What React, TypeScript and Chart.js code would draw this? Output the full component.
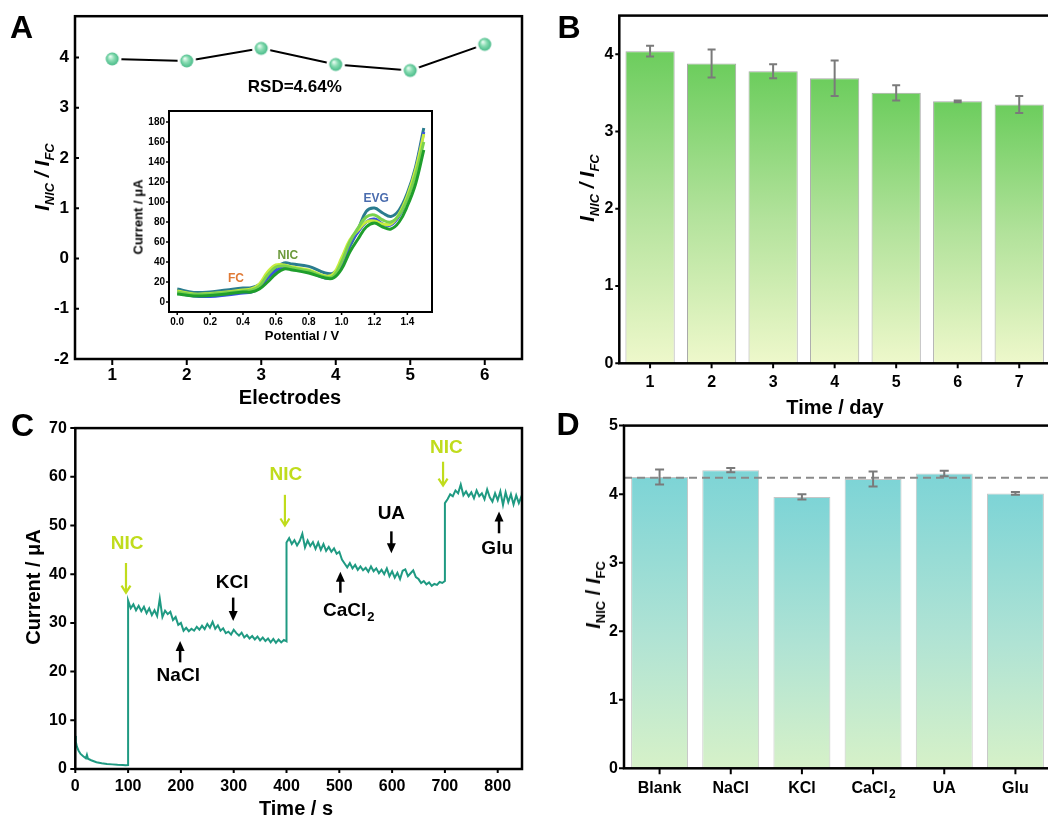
import React, { useEffect, useRef } from "react";
import { Chart, registerables } from "chart.js";

Chart.register(...registerables);

const FONT = "'Liberation Sans', Arial, Helvetica, sans-serif";

// ---------------- Panel A: reproducibility ----------------
const electrodeLabels = ["1", "2", "3", "4", "5", "6"];
const electrodeRatios = [3.97, 3.93, 4.18, 3.86, 3.74, 4.26];

// Inset: DPV curves
const cvPotential = [0, 0.1, 0.2, 0.3, 0.4, 0.45, 0.5, 0.55, 0.6, 0.65, 0.7, 0.8, 0.9, 0.95, 1.0, 1.05, 1.1, 1.15, 1.2, 1.25, 1.3, 1.35, 1.4, 1.45, 1.5];
const cvGreen = [8, 6, 6.5, 8, 10, 10, 13, 20, 28, 33, 32, 29, 24, 24, 33, 50, 63, 75, 79, 75, 73, 80, 96, 118, 152];
const cvLightGreen = [10, 7.5, 8, 9.5, 11, 12, 16, 27, 35, 36, 34, 31, 25, 26, 40, 60, 74, 85, 87, 82, 80, 87, 103, 127, 160];
const cvYellow = [11, 8, 8.5, 10, 12, 13, 18, 30, 37, 37, 35, 32, 26, 28, 44, 62, 72, 80, 81, 78, 78, 88, 106, 132, 168];
const cvBlue = [9, 6, 5.5, 7, 9, 10, 14, 24, 31, 35, 33, 30, 24, 25, 38, 58, 70, 80, 83, 78, 77, 86, 104, 132, 170];
const cvTeal = [13, 9.6, 10, 12, 14, 14.3, 17.6, 26, 34, 39, 38, 35.6, 29, 29, 39, 55.6, 72, 90.6, 94, 89, 85.6, 92, 109, 135, 174];
const cvPotentialTicks = [0, 0.2, 0.4, 0.6, 0.8, 1.0, 1.2, 1.4];

// ---------------- Panel B: stability ----------------
const dayLabels = ["1", "2", "3", "4", "5", "6", "7"];
const dayRatios = [4.04, 3.88, 3.78, 3.69, 3.5, 3.39, 3.35];
const dayErrors = [0.07, 0.18, 0.09, 0.23, 0.1, 0.01, 0.11];

// ---------------- Panel C: i-t curve ----------------
const itTime = [
  0, 1, 3, 6, 10, 15, 20, 22, 24, 30, 40, 50, 60, 70, 80, 90, 95, 100,
  100, 105, 110, 115, 120, 125, 130, 135, 140, 145, 150, 155, 160, 165, 170, 175, 180, 185, 190, 195,
  200, 205, 210, 215, 220, 225, 230, 235, 240, 245, 250, 255, 260, 265, 270, 275, 280, 285, 290, 295,
  300, 305, 310, 315, 320, 325, 330, 335, 340, 345, 350, 355, 360, 365, 370, 375, 380, 385, 390, 395, 400,
  400, 405, 410, 415, 420, 425, 430, 435, 440, 445, 450, 455, 460, 465, 470, 475, 480, 485, 490, 495,
  500, 505, 510, 515, 520, 525, 530, 535, 540, 545, 550, 555, 560, 565, 570, 575, 580, 585, 590, 595,
  600, 605, 610, 615, 620, 625, 630, 635, 640, 645, 650, 655, 660, 665, 670, 675, 680, 685, 690, 695, 700,
  700, 705, 710, 715, 720, 725, 730, 735, 740, 745, 750, 755, 760, 765, 770, 775, 780, 785, 790, 795,
  800, 805, 810, 815, 820, 825, 830, 835, 840, 845, 850,
];
const itCurrent = [
  6.8, 5.6, 4.6, 3.8, 3.1, 2.6, 2.2, 2.9, 2.1, 1.8, 1.4, 1.2, 1.05, 0.95, 0.85, 0.8, 0.78, 0.8,
  34.6, 33.0, 33.8, 32.6, 33.5, 32.4, 33.3, 32.0, 33.0, 31.6, 32.6, 31.4, 35.0, 31.2, 32.5, 31.8, 32.3, 30.6, 31.2, 29.6,
  30.0, 28.4, 29.0, 28.3, 28.8, 28.4, 29.2, 28.6, 29.4, 28.7, 29.8, 29.0, 30.2, 28.8, 29.5, 28.4, 28.9, 27.9, 28.2, 27.6,
  28.6, 27.9, 27.4, 28.0, 27.0, 27.5, 26.8, 27.3, 26.6, 27.2, 26.4, 27.0, 26.3, 26.8, 26.0, 26.7, 25.9, 26.6, 26.0, 26.5, 26.2,
  46.5, 47.4, 46.2, 47.0, 45.9, 46.8, 48.3, 45.5, 46.9, 45.8, 46.6, 45.2, 46.5, 45.0, 46.2, 44.8, 45.6, 44.6, 45.3, 44.2,
  44.6, 43.0, 42.2, 41.4, 42.3, 41.2, 41.9, 40.9, 41.6, 40.8, 41.3, 40.5, 41.6, 40.6, 41.2, 40.2, 40.9, 40.0, 41.2, 39.6,
  40.6, 39.3, 40.3, 39.0, 40.7, 41.0, 39.6, 40.2, 40.8, 39.4, 39.0, 38.2, 38.6, 37.9, 38.3, 37.6, 38.0, 37.8, 38.4, 38.2, 38.6,
  54.6, 55.4, 56.4, 56.0, 57.2, 56.6, 58.4, 56.2, 57.0, 56.0, 56.8, 55.6, 57.2, 56.0, 56.6, 55.4, 57.4, 55.8, 54.9, 56.6,
  55.2, 57.0, 54.2, 56.8, 54.8, 56.4, 54.3, 56.2, 54.6, 56.0, 55.6,
];

// ---------------- Panel D: selectivity ----------------
const interferentLabels = ["Blank", "NaCl", "KCl", "CaCl₂", "UA", "Glu"];
const interferentRatios = [4.25, 4.35, 3.96, 4.22, 4.3, 4.01];
const interferentErrors = [0.11, 0.03, 0.04, 0.11, 0.04, 0.02];
const blankReference = 4.24;

const NIC_COLOR = "#c0dc1c";

// annotation placement in data coordinates of panel C
const itNotes = [
  { text: "NIC", color: NIC_COLOR, tx: 98, ty: 46.3, ax: 96, from: 42.3, to: 36.2 },
  { text: "NaCl", color: "#000", tx: 195, ty: 19.2, ax: 198.5, from: 21.9, to: 26.3 },
  { text: "KCl", color: "#000", tx: 297, ty: 38.2, ax: 299, from: 35.2, to: 30.4 },
  { text: "NIC", color: NIC_COLOR, tx: 399, ty: 60.4, ax: 397, from: 56.3, to: 50 },
  { text: "CaCl₂", color: "#000", tx: 517, ty: 32.4, ax: 502, from: 36.2, to: 40.5 },
  { text: "UA", color: "#000", tx: 598.6, ty: 52.5, ax: 598.6, from: 48.8, to: 44.3 },
  { text: "NIC", color: NIC_COLOR, tx: 702.7, ty: 65.9, ax: 696.5, from: 63.1, to: 58.2 },
  { text: "Glu", color: "#000", tx: 799, ty: 45.3, ax: 802.5, from: 48.4, to: 52.9 },
];

// ---------------- helpers ----------------
const bold = (size: number) => ({ family: FONT, size, weight: "bold" as const });

function linearY(min: number, max: number, step: number, width: number, pad: number, size: number) {
  return {
    type: "linear",
    min,
    max,
    ticks: { stepSize: step, includeBounds: false, color: "#000", font: bold(size), padding: pad },
    grid: { display: false, drawTicks: false, tickLength: 0 },
    border: { display: false },
    afterFit: (s: any) => {
      s.width = width;
    },
  };
}

// draws text where a trailing "₂" is rendered as a real lowered subscript "2"
function drawSubText(ctx: any, text: string, cx: number, cy: number, size: number, subSize: number, subDrop: number) {
  const hasSub = text.endsWith("₂");
  const main = hasSub ? text.slice(0, -1) : text;
  ctx.textBaseline = "middle";
  ctx.font = `bold ${size}px ${FONT}`;
  if (!hasSub) {
    ctx.textAlign = "center";
    ctx.fillText(main, cx, cy);
    return;
  }
  const w1 = ctx.measureText(main).width;
  ctx.font = `bold ${subSize}px ${FONT}`;
  const w2 = ctx.measureText("2").width;
  const start = cx - (w1 + w2) / 2;
  ctx.textAlign = "left";
  ctx.font = `bold ${size}px ${FONT}`;
  ctx.fillText(main, start, cy);
  ctx.font = `bold ${subSize}px ${FONT}`;
  ctx.fillText("2", start + w1 + 1, cy + subDrop);
}

function framePlugin(lw: number, tw: number, xLen: number, yLen: number) {
  return {
    id: "frame",
    afterDraw(chart: any) {
      const { ctx, chartArea: a, scales } = chart;
      ctx.save();
      ctx.strokeStyle = "#000";
      ctx.lineWidth = lw;
      ctx.strokeRect(a.left, a.top, a.right - a.left, a.bottom - a.top);
      ctx.lineWidth = tw;
      ctx.beginPath();
      const xs = scales.x;
      xs.ticks.forEach((_t: any, i: number) => {
        const px = xs.getPixelForTick(i);
        ctx.moveTo(px, a.bottom);
        ctx.lineTo(px, a.bottom + xLen);
      });
      const ys = scales.y;
      ys.ticks.forEach((_t: any, i: number) => {
        const py = ys.getPixelForTick(i);
        ctx.moveTo(a.left, py);
        ctx.lineTo(a.left - yLen, py);
      });
      ctx.stroke();
      ctx.restore();
    },
  };
}

function categoryLabelPlugin(labels: string[], size: number, offset: number) {
  return {
    id: "catLabels",
    afterDraw(chart: any) {
      const { ctx, chartArea: a, scales } = chart;
      ctx.save();
      ctx.fillStyle = "#000";
      labels.forEach((lab, i) => {
        drawSubText(ctx, lab, scales.x.getPixelForTick(i), a.bottom + offset, size, 12, 6);
      });
      ctx.restore();
    },
  };
}

function errorBarPlugin(values: number[], errors: number[], cap: number, refLine?: number) {
  return {
    id: "errbars",
    afterDatasetsDraw(chart: any) {
      const { ctx, chartArea: a, scales } = chart;
      const ys = scales.y;
      ctx.save();
      if (refLine !== undefined) {
        const py = ys.getPixelForValue(refLine);
        ctx.strokeStyle = "#8a8a8a";
        ctx.lineWidth = 2;
        ctx.setLineDash([8, 5]);
        ctx.beginPath();
        ctx.moveTo(a.left, py);
        ctx.lineTo(a.right, py);
        ctx.stroke();
        ctx.setLineDash([]);
      }
      const meta = chart.getDatasetMeta(0);
      ctx.strokeStyle = "#7a7a7a";
      ctx.lineWidth = 2;
      meta.data.forEach((bar: any, i: number) => {
        const y1 = ys.getPixelForValue(values[i] + errors[i]);
        const y2 = ys.getPixelForValue(values[i] - errors[i]);
        ctx.beginPath();
        ctx.moveTo(bar.x, y1);
        ctx.lineTo(bar.x, y2);
        ctx.moveTo(bar.x - cap, y1);
        ctx.lineTo(bar.x + cap, y1);
        ctx.moveTo(bar.x - cap, y2);
        ctx.lineTo(bar.x + cap, y2);
        ctx.stroke();
      });
      ctx.restore();
    },
  };
}

function barGradient(stops: [number, string][]) {
  return (c: any) => {
    const chart = c.chart;
    const ys = chart.scales && chart.scales.y;
    if (!chart.chartArea || !ys || c.raw === undefined) return stops[0][1];
    const top = ys.getPixelForValue(c.raw);
    const bottom = ys.getPixelForValue(0);
    const g = chart.ctx.createLinearGradient(0, top, 0, bottom);
    stops.forEach(([o, col]) => g.addColorStop(o, col));
    return g;
  };
}

function makeSphere() {
  const c = document.createElement("canvas");
  c.width = 20;
  c.height = 20;
  const g = c.getContext("2d")!;
  g.fillStyle = "#fff";
  g.beginPath();
  g.arc(10, 10, 9.3, 0, Math.PI * 2);
  g.fill();
  const rg = g.createRadialGradient(8, 7.5, 0.5, 10, 10, 6.6);
  rg.addColorStop(0, "#e6fbf0");
  rg.addColorStop(0.45, "#88dcb2");
  rg.addColorStop(1, "#47ba88");
  g.fillStyle = rg;
  g.beginPath();
  g.arc(10, 10, 6.5, 0, Math.PI * 2);
  g.fill();
  return c;
}

function drawArrow(ctx: any, x: number, y1: number, y2: number, color: string, lw: number, hw: number, hl: number, open: boolean) {
  const dir = y2 > y1 ? 1 : -1;
  ctx.strokeStyle = color;
  ctx.fillStyle = color;
  ctx.lineWidth = lw;
  ctx.beginPath();
  ctx.moveTo(x, y1);
  ctx.lineTo(x, open ? y2 - dir : y2 - dir * hl * 0.8);
  ctx.stroke();
  if (open) {
    ctx.beginPath();
    ctx.moveTo(x - hw / 2, y2 - dir * hl);
    ctx.lineTo(x, y2);
    ctx.lineTo(x + hw / 2, y2 - dir * hl);
    ctx.stroke();
    return;
  }
  ctx.beginPath();
  ctx.moveTo(x, y2);
  ctx.lineTo(x - hw / 2, y2 - dir * hl);
  ctx.lineTo(x + hw / 2, y2 - dir * hl);
  ctx.closePath();
  ctx.fill();
}

// ---------------- chart configs ----------------
function configA() {
  const sphere = makeSphere();
  return {
    type: "line",
    data: {
      labels: electrodeLabels,
      datasets: [
        {
          data: electrodeRatios,
          borderColor: "#000",
          borderWidth: 2,
          pointStyle: sphere,
          pointRadius: 7,
          tension: 0,
        },
      ],
    },
    options: {
      animation: false,
      responsive: false,
      devicePixelRatio: 1,
      layout: { padding: { top: 14, right: 18, left: 0, bottom: 0 } },
      plugins: { legend: { display: false }, tooltip: { enabled: false } },
      scales: {
        x: {
          type: "category",
          offset: true,
          ticks: { color: "#000", font: bold(17), padding: 6, maxRotation: 0 },
          grid: { display: false, drawTicks: false, tickLength: 0 },
          border: { display: false },
          afterFit: (s: any) => {
            s.height = 51;
          },
        },
        y: linearY(-2, 4.82, 1, 75, 6, 17),
      },
    },
    plugins: [
      framePlugin(2.5, 2, 6, -4),
      {
        id: "rsd",
        afterDatasetsDraw(chart: any) {
          const { ctx, scales } = chart;
          ctx.save();
          ctx.font = `bold 17px ${FONT}`;
          ctx.fillStyle = "#000";
          ctx.textAlign = "center";
          ctx.textBaseline = "middle";
          ctx.fillText("RSD=4.64%", scales.x.getPixelForValue(2.45), scales.y.getPixelForValue(3.4));
          ctx.restore();
        },
      },
    ],
  };
}

function configInset() {
  const mk = (arr: number[], color: string) => ({
    data: cvPotential.map((p, i) => ({ x: p, y: arr[i] })),
    borderColor: color,
    borderWidth: 3,
    pointRadius: 0,
    tension: 0.4,
  });
  return {
    type: "line",
    data: {
      datasets: [
        mk(cvGreen, "#1f9e2c"),
        mk(cvLightGreen, "#7ad24e"),
        mk(cvYellow, "#c8ec3e"),
        mk(cvBlue, "#3a52e0"),
        mk(cvTeal, "#2a7c8e"),
      ],
    },
    options: {
      animation: false,
      responsive: false,
      devicePixelRatio: 1,
      layout: { padding: { top: 11, right: 8, left: 0, bottom: 0 } },
      plugins: { legend: { display: false }, tooltip: { enabled: false } },
      scales: {
        x: {
          type: "linear",
          min: -0.05,
          max: 1.55,
          afterBuildTicks: (s: any) => {
            s.ticks = cvPotentialTicks.map((v) => ({ value: v }));
          },
          ticks: { color: "#000", font: bold(10), padding: 4, maxRotation: 0, autoSkip: false, callback: (v: number) => v.toFixed(1) },
          grid: { display: false, drawTicks: false, tickLength: 0 },
          border: { display: false },
          afterFit: (s: any) => {
            s.height = 33;
          },
        },
        y: linearY(-10, 191, 20, 49, 4, 10),
      },
    },
    plugins: [
      {
        id: "bg",
        beforeDraw(chart: any) {
          const { ctx, chartArea: a } = chart;
          ctx.save();
          ctx.fillStyle = "#fff";
          ctx.fillRect(a.left, a.top, a.right - a.left, a.bottom - a.top);
          ctx.restore();
        },
      },
      framePlugin(2, 1.5, 3, 3),
      {
        id: "peaks",
        afterDatasetsDraw(chart: any) {
          const { ctx, scales } = chart;
          const notes = [
            { t: "FC", c: "#e07a36", x: 0.357, y: 23 },
            { t: "NIC", c: "#6c9a3c", x: 0.673, y: 46.3 },
            { t: "EVG", c: "#4a6cae", x: 1.211, y: 103 },
          ];
          ctx.save();
          ctx.font = `bold 12px ${FONT}`;
          ctx.textAlign = "center";
          ctx.textBaseline = "middle";
          notes.forEach((n) => {
            ctx.fillStyle = n.c;
            ctx.fillText(n.t, scales.x.getPixelForValue(n.x), scales.y.getPixelForValue(n.y));
          });
          ctx.restore();
        },
      },
    ],
  };
}

function configB() {
  return {
    type: "bar",
    data: {
      labels: dayLabels,
      datasets: [
        {
          data: dayRatios,
          backgroundColor: barGradient([
            [0, "#6ccd5d"],
            [0.5, "#b2e29b"],
            [1, "#eef8cb"],
          ]),
          borderColor: "#a8a8a8",
          borderWidth: 1,
          barPercentage: 0.8,
          categoryPercentage: 1,
        },
      ],
    },
    options: {
      animation: false,
      responsive: false,
      devicePixelRatio: 1,
      layout: { padding: { top: 14, right: 10, left: 0, bottom: 0 } },
      plugins: { legend: { display: false }, tooltip: { enabled: false } },
      scales: {
        x: {
          type: "category",
          ticks: { color: "#000", font: bold(16), padding: 10, maxRotation: 0 },
          grid: { display: false, drawTicks: false, tickLength: 0 },
          border: { display: false },
          afterFit: (s: any) => {
            s.height = 46.7;
          },
        },
        y: linearY(0, 4.5, 1, 79.3, 6, 16),
      },
    },
    plugins: [errorBarPlugin(dayRatios, dayErrors, 4), framePlugin(2.5, 2, 5, 4)],
  };
}

function configC() {
  return {
    type: "line",
    data: {
      datasets: [
        {
          data: itTime.map((t, i) => ({ x: t, y: itCurrent[i] })),
          borderColor: "#1f9a82",
          borderWidth: 2,
          pointRadius: 0,
          tension: 0,
        },
      ],
    },
    options: {
      animation: false,
      responsive: false,
      devicePixelRatio: 1,
      layout: { padding: { top: 15.7, right: 18, left: 0, bottom: 0 } },
      plugins: { legend: { display: false }, tooltip: { enabled: false } },
      scales: {
        x: {
          type: "linear",
          min: 0,
          max: 846,
          ticks: { stepSize: 100, includeBounds: false, color: "#000", font: bold(16), padding: 8, maxRotation: 0 },
          grid: { display: false, drawTicks: false, tickLength: 0 },
          border: { display: false },
          afterFit: (s: any) => {
            s.height = 49;
          },
        },
        y: linearY(0, 70, 10, 75.3, 8.5, 16),
      },
    },
    plugins: [
      framePlugin(2.5, 2, 4, 5),
      {
        id: "notes",
        afterDatasetsDraw(chart: any) {
          const { ctx, scales } = chart;
          const xs = scales.x;
          const ys = scales.y;
          ctx.save();
          itNotes.forEach((n) => {
            const isNic = n.color !== "#000";
            drawArrow(ctx, xs.getPixelForValue(n.ax), ys.getPixelForValue(n.from), ys.getPixelForValue(n.to), n.color, isNic ? 2.2 : 2.5, isNic ? 9 : 9, isNic ? 7 : 10, isNic);
            ctx.fillStyle = n.color;
            drawSubText(ctx, n.text, xs.getPixelForValue(n.tx), ys.getPixelForValue(n.ty), 19, 13, 6);
          });
          ctx.restore();
        },
      },
    ],
  };
}

function configD() {
  return {
    type: "bar",
    data: {
      labels: interferentLabels,
      datasets: [
        {
          data: interferentRatios,
          backgroundColor: barGradient([
            [0, "#7dd4d6"],
            [0.55, "#b0e3d4"],
            [1, "#d6f1c8"],
          ]),
          borderColor: "#c6c6c6",
          borderWidth: 1,
          barPercentage: 0.8,
          categoryPercentage: 1,
        },
      ],
    },
    options: {
      animation: false,
      responsive: false,
      devicePixelRatio: 1,
      layout: { padding: { top: 12.3, right: 9, left: 0, bottom: 0 } },
      plugins: { legend: { display: false }, tooltip: { enabled: false } },
      scales: {
        x: {
          type: "category",
          ticks: { display: false },
          grid: { display: false, drawTicks: false, tickLength: 0 },
          border: { display: false },
          afterFit: (s: any) => {
            s.height = 49.7;
          },
        },
        y: linearY(0, 5, 1, 84, 6, 16),
      },
    },
    plugins: [
      errorBarPlugin(interferentRatios, interferentErrors, 4.5, blankReference),
      framePlugin(2.5, 2, 6, 5),
      categoryLabelPlugin(interferentLabels, 16, 20),
    ],
  };
}

// ---------------- components ----------------
function ChartCanvas({ x, y, w, h, make }: { x: number; y: number; w: number; h: number; make: () => any }) {
  const ref = useRef<HTMLCanvasElement>(null);
  useEffect(() => {
    const chart = new Chart(ref.current as HTMLCanvasElement, make());
    return () => chart.destroy();
  }, []);
  return (
    <canvas
      ref={ref}
      width={w}
      height={h}
      style={{ position: "absolute", left: x, top: y, width: w, height: h }}
    />
  );
}

function Text({ x, y, size, rot, children, style }: any) {
  return (
    <div
      style={{
        position: "absolute",
        left: x,
        top: y,
        transform: `translate(-50%, -50%)${rot ? " rotate(-90deg)" : ""}`,
        whiteSpace: "nowrap",
        fontFamily: FONT,
        fontWeight: "bold",
        fontSize: size,
        lineHeight: 1,
        color: "#000",
        ...style,
      }}
    >
      {children}
    </div>
  );
}

const Sub = ({ children, italic }: any) => (
  <span style={{ fontSize: 13, position: "relative", top: 5, fontStyle: italic ? "italic" : "normal" }}>{children}</span>
);

function RatioTitle({ italicSub }: { italicSub: boolean }) {
  return (
    <span>
      <i>I</i>
      <Sub italic={italicSub}>NIC</Sub>
      <span style={{ fontStyle: italicSub ? "italic" : "normal" }}> / </span>
      <i>I</i>
      <Sub italic={italicSub}>FC</Sub>
    </span>
  );
}

export default function App() {
  return (
    <div
      style={{
        position: "fixed",
        left: 0,
        top: 0,
        width: 1048,
        height: 818,
        overflow: "hidden",
        background: "#fff",
      }}
    >
      <ChartCanvas x={0} y={0} w={540} h={410} make={configA} />
      <ChartCanvas x={120} y={100} w={320} h={245} make={configInset} />
      <ChartCanvas x={540} y={0} w={520} h={410} make={configB} />
      <ChartCanvas x={0} y={410} w={540} h={408} make={configC} />
      <ChartCanvas x={540} y={410} w={520} h={408} make={configD} />

      <Text x={21.5} y={27} size={32}>A</Text>
      <Text x={569} y={27} size={32}>B</Text>
      <Text x={22.5} y={425} size={32}>C</Text>
      <Text x={568} y={424} size={32}>D</Text>

      <Text x={42} y={177} size={20} rot>
        <RatioTitle italicSub={true} />
      </Text>
      <Text x={290} y={397} size={20}>Electrodes</Text>
      <Text x={138} y={217} size={13} rot>Current / μA</Text>
      <Text x={302} y={335} size={13}>Potential / V</Text>

      <Text x={587} y={188} size={20} rot>
        <RatioTitle italicSub={true} />
      </Text>
      <Text x={835} y={407} size={20}>Time / day</Text>

      <Text x={33} y={587} size={20} rot>Current / μA</Text>
      <Text x={296} y={808} size={20}>Time / s</Text>

      <Text x={593} y={595} size={20} rot>
        <RatioTitle italicSub={false} />
      </Text>
    </div>
  );
}
